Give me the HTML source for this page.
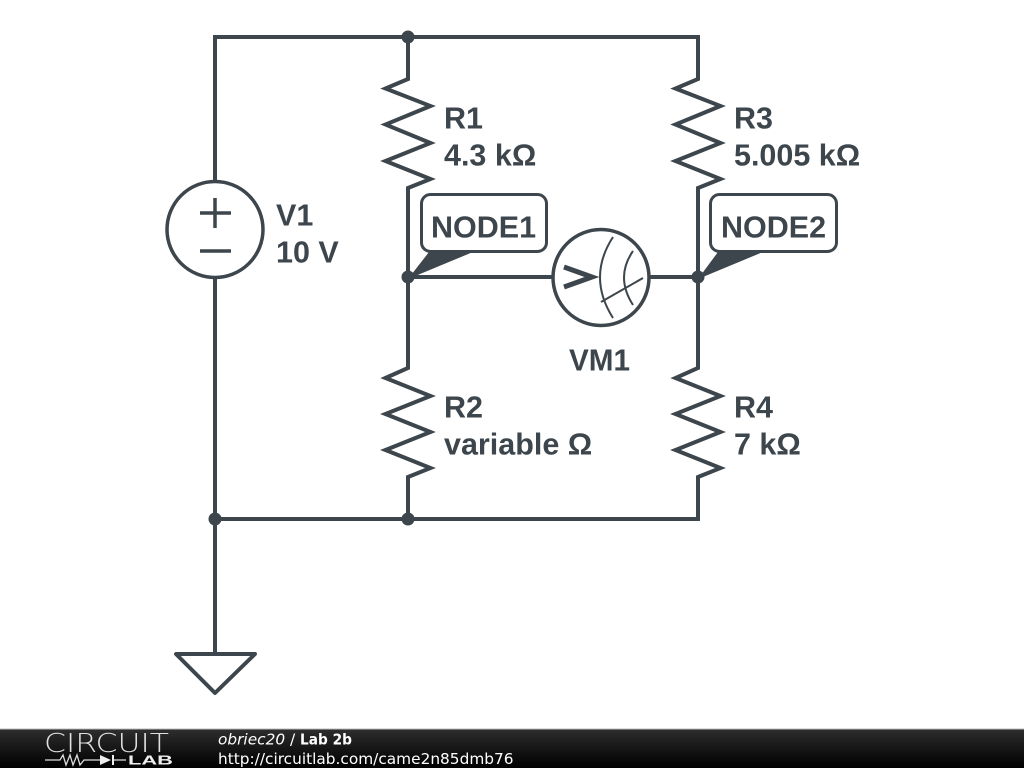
<!DOCTYPE html>
<html>
<head>
<meta charset="utf-8">
<style>
html,body{margin:0;padding:0;background:#fff;width:1024px;height:768px;overflow:hidden}
svg{display:block}
.l{font-family:"Liberation Sans",sans-serif;font-weight:bold;font-size:30.5px;fill:#3d464c}
.f{font-family:"DejaVu Sans",sans-serif;font-size:15.35px;fill:#fff}
</style>
</head>
<body>
<svg width="1024" height="768" viewBox="0 0 1024 768" xmlns="http://www.w3.org/2000/svg">
<defs>
<linearGradient id="g" x1="0" y1="0" x2="0" y2="1">
<stop offset="0" stop-color="#2e2e2e"/>
<stop offset="0.5" stop-color="#161616"/>
<stop offset="1" stop-color="#000"/>
</linearGradient>
</defs>
<rect width="1024" height="768" fill="#fff"/>
<g fill="none" stroke="#3d464c" stroke-width="4" stroke-linejoin="miter">
<path d="M215 180V37H698V79L675.500 88.500L720.500 106L675.500 124.500L720.500 143L675.500 161L720.500 179L698 188V277"/>
<path d="M215 278V654"/>
<path d="M215 519H698V477L720.500 468L675.500 450L720.500 432L675.500 414L720.500 396L675.500 378L698 368V277"/>
<path d="M408 37V79L385.500 88.500L430.500 106L385.500 124.500L430.500 143L385.500 161L430.500 179L408 188V277"/>
<path d="M408 277V368L385.500 378L430.500 396L385.500 414L430.500 432L385.500 450L430.500 468L408 477V519"/>
<path d="M408 277H552M650 277H698"/>
<circle cx="215" cy="229.500" r="48" stroke-width="3.500"/>
<path d="M215 198V228M200 213H231M200 251H231" stroke-width="3.500"/>
<circle cx="601" cy="277.500" r="48" stroke-width="3.500"/>
<path d="M564 267L592 277L564 287" stroke-width="5"/>
<path d="M613 237Q587 277 613 318M633 251Q615 277 633 305" stroke-width="2"/>
<path d="M601 302L643 278" stroke-width="2"/>
<path d="M215 693L176 654H255Z" stroke-linejoin="round"/>
<rect x="421.500" y="194.500" width="125" height="57" rx="9" fill="#fff" stroke-width="3"/>
<rect x="710.500" y="194.500" width="126" height="57" rx="9" fill="#fff" stroke-width="3"/>
</g>
<g fill="#3d464c">
<path d="M429 252L473 252L408 279Z"/>
<path d="M718 252L763 252L698 279Z"/>
<circle cx="408" cy="37" r="6.500"/>
<circle cx="408" cy="277" r="6.500"/>
<circle cx="698" cy="277" r="6.500"/>
<circle cx="408" cy="519" r="6.500"/>
<circle cx="215" cy="519" r="6.500"/>
</g>
<text class="l" x="444" y="128.500">R1</text>
<text class="l" x="444" y="165.500">4.3 kΩ</text>
<text class="l" x="734" y="128.500">R3</text>
<text class="l" x="734" y="165.500">5.005 kΩ</text>
<text class="l" x="276" y="225.500">V1</text>
<text class="l" x="276" y="262.500">10 V</text>
<text class="l" x="431" y="237.500">NODE1</text>
<text class="l" x="721" y="237.500">NODE2</text>
<text class="l" x="569" y="370.500" textLength="61" lengthAdjust="spacingAndGlyphs">VM1</text>
<text class="l" x="444" y="417.500">R2</text>
<text class="l" x="444" y="454.500">variable Ω</text>
<text class="l" x="734" y="417.500">R4</text>
<text class="l" x="734" y="454.500">7 kΩ</text>
<rect x="0" y="729" width="1024" height="39" fill="url(#g)"/>
<rect x="0" y="728.500" width="1024" height="1" fill="#bbb"/>
<text x="44" y="752" font-family="'DejaVu Sans',sans-serif" font-weight="200" font-size="26" fill="#e0e0e0" textLength="125" lengthAdjust="spacingAndGlyphs">CIRCUIT</text>
<path d="M45 760H60L63 755L66 765L70 755L73 765L77 755L80 765L84 760H100M113 760H126" fill="none" stroke="#ddd" stroke-width="1.300"/>
<path d="M100 755V765L111 760Z" fill="#eee"/>
<path d="M113 755V765" stroke="#eee" stroke-width="2"/>
<text x="128" y="764.500" font-family="'Liberation Sans',sans-serif" font-weight="bold" font-size="13" fill="#eee" textLength="45" lengthAdjust="spacingAndGlyphs">LAB</text>
<text class="f" x="218" y="744.500" font-style="italic">obriec20 <tspan font-style="normal">/</tspan></text>
<text class="f" x="300" y="744.500" font-weight="bold" textLength="52" lengthAdjust="spacingAndGlyphs">Lab 2b</text>
<text class="f" x="218" y="764">http://circuitlab.com/came2n85dmb76</text>
</svg>
</body>
</html>
